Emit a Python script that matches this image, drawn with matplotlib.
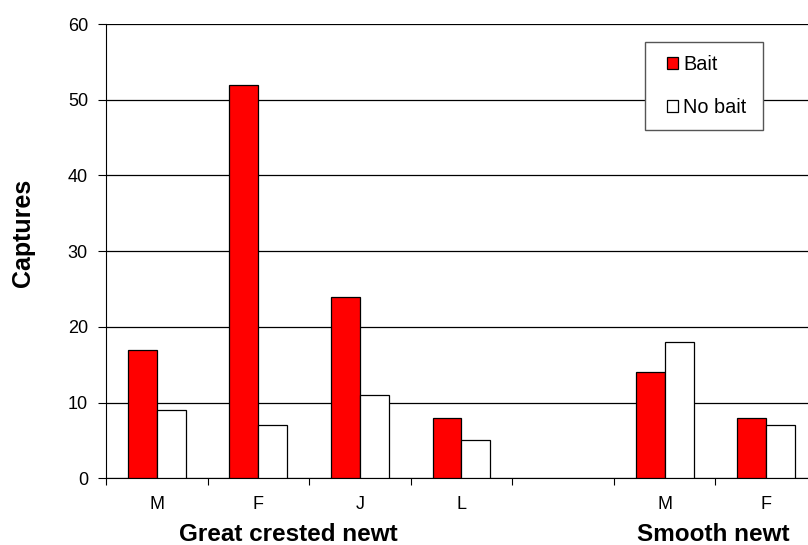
import matplotlib
matplotlib.use("Agg")
import matplotlib.pyplot as plt
import matplotlib.transforms as mtransforms
from matplotlib.patches import Rectangle
import numpy as np

plt.rcParams['font.family'] = ['Liberation Sans', 'DejaVu Sans']

# data (the fifth slot is an empty spacer)
categories = ['M', 'F', 'J', 'L', '', 'M', 'F']
bait = [17, 52, 24, 8, None, 14, 8]
no_bait = [9, 7, 11, 5, None, 18, 7]
groups = ['Great crested newt', 'Smooth newt']
group_pos = [1.29, 5.48]

W, H = 808, 545
fig = plt.figure(figsize=(W / 100, H / 100), dpi=100)
# axes run past the right edge, as in the reference
ax = fig.add_axes([106 / W, 1 - 478.3 / H, (817 - 106) / W, (478.3 - 24) / H])

x = np.arange(len(categories))
w = 0.285
b = np.array(bait, dtype=float)
nb = np.array(no_bait, dtype=float)
ax.bar(x - w / 2, b, w, color='#ff0000', edgecolor='black', linewidth=0.9, label='Bait', zorder=3)
ax.bar(x + w / 2, nb, w, color='white', edgecolor='black', linewidth=0.9, label='No bait', zorder=3)

ax.set_xlim(-0.5, len(categories) - 0.5)
ax.set_ylim(0, 60)
ax.set_yticks(range(0, 61, 10))
ax.yaxis.grid(True, color='black', linewidth=0.9)
ax.set_axisbelow(True)

ax.set_xticks(x)
ax.set_xticklabels(categories, fontsize=13)
ax.tick_params(axis='x', length=0, pad=13)
ax.set_xticks(np.arange(-0.5, len(categories)), minor=True)
ax.tick_params(axis='x', which='minor', length=5, width=0.8)
ax.tick_params(axis='y', length=6, width=0.8, labelsize=13, pad=7)

for s in ['top', 'right']:
    ax.spines[s].set_visible(False)

fig.text(23 / W, 1 - 233 / H, 'Captures', rotation=90, ha='center', va='center',
         fontsize=18, fontweight='bold')

trans = mtransforms.blended_transform_factory(ax.transData, fig.transFigure)
for g, p in zip(groups, group_pos):
    ax.text(p, 1 - 541 / H, g, transform=trans, ha='center', va='baseline',
            fontsize=17.5, fontweight='bold')

# legend box drawn separately so its padding matches the reference
fig.patches.append(Rectangle((645 / W, 1 - 130 / H), 118 / W, 88 / H, transform=fig.transFigure,
                             facecolor='white', edgecolor='#555555', linewidth=1.0, zorder=4))
leg = fig.legend(*ax.get_legend_handles_labels(), loc='center left',
                 bbox_to_anchor=(667 / W, 1 - 86 / H), fontsize=14.3, frameon=False,
                 handlelength=0.55, handleheight=0.55, handletextpad=0.25,
                 labelspacing=1.25, borderpad=0, borderaxespad=0)
leg.set_zorder(5)

fig.savefig('out.png', dpi=100)
